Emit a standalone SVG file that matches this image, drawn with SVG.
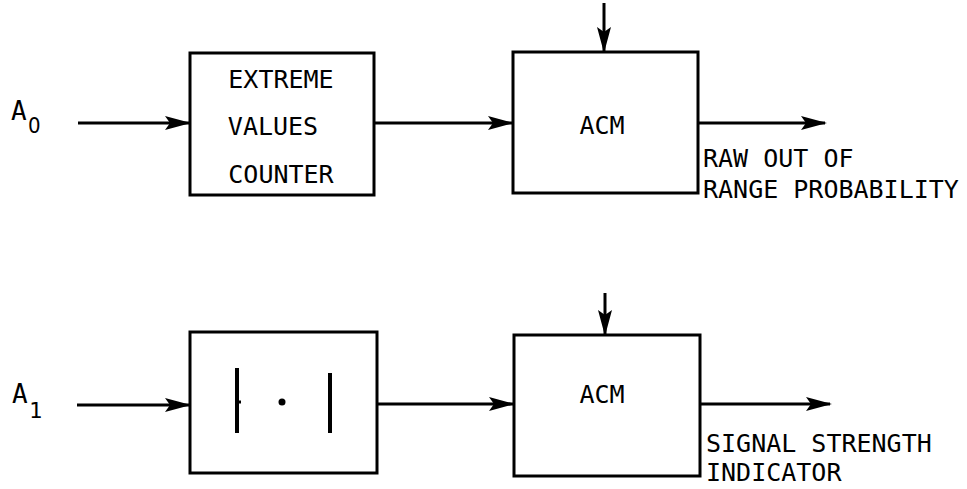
<svg xmlns="http://www.w3.org/2000/svg" width="967" height="489" viewBox="0 0 967 489">
<style>
.box{fill:none;stroke:#000;stroke-width:3}
.ln{fill:none;stroke:#000;stroke-width:3}
.t{font-family:"DejaVu Sans Mono","Liberation Mono",monospace;font-size:25px;fill:#000}
.c{text-anchor:middle}
</style>
<defs>
<marker id="ah" viewBox="0 0 26 16" refX="24" refY="8" markerWidth="26" markerHeight="16" markerUnits="userSpaceOnUse" orient="auto">
<path d="M0,1 L26,8 L0,15 L5,8 Z" fill="#000"/>
</marker>
</defs>
<g id="connectors">
<line class="ln" x1="78" y1="123" x2="189" y2="123" marker-end="url(#ah)"/>
<line class="ln" x1="374" y1="123" x2="512" y2="123" marker-end="url(#ah)"/>
<line class="ln" x1="604" y1="3" x2="604" y2="51" marker-end="url(#ah)"/>
<line class="ln" x1="698" y1="123" x2="825" y2="123" marker-end="url(#ah)"/>
<line class="ln" x1="77" y1="405" x2="189" y2="405" marker-end="url(#ah)"/>
<line class="ln" x1="377" y1="404" x2="513" y2="404" marker-end="url(#ah)"/>
<line class="ln" x1="605" y1="293" x2="605" y2="334" marker-end="url(#ah)"/>
<line class="ln" x1="700" y1="404" x2="830" y2="404" marker-end="url(#ah)"/>
</g>
<g id="label-a0">
<text class="t" x="11" y="120" style="font-size:26px">A</text>
<text class="t" x="28" y="133" style="font-family:'DejaVu Sans Condensed','Liberation Sans',sans-serif;font-size:22px">0</text>
</g>
<g id="label-a1">
<text class="t" x="12" y="403" style="font-size:26px">A</text>
<text class="t" x="29" y="418" style="font-size:22px">1</text>
</g>
<g id="extreme-values-counter">
<rect class="box" x="190" y="53" width="184" height="142"/>
<text class="t c" x="281" y="88">EXTREME</text>
<text class="t c" x="273" y="135">VALUES</text>
<text class="t c" x="281" y="183">COUNTER</text>
</g>
<g id="acm-top">
<rect class="box" x="513" y="52" width="185" height="141"/>
<text class="t c" x="602" y="134">ACM</text>
</g>
<g id="label-raw">
<text class="t" x="703" y="167">RAW OUT OF</text>
<text class="t" x="703" y="198">RANGE PROBABILITY</text>
</g>
<g id="abs-value">
<rect class="box" x="190" y="332" width="187" height="141"/>
<line class="ln" x1="237" y1="368" x2="237" y2="433" style="stroke-width:4"/>
<line class="ln" x1="237" y1="402" x2="241" y2="402"/>
<circle cx="282" cy="402" r="3.5" fill="#000"/>
<line class="ln" x1="330" y1="373" x2="330" y2="433" style="stroke-width:4"/>
</g>
<g id="acm-bottom">
<rect class="box" x="514" y="335" width="186" height="141"/>
<text class="t c" x="602" y="403">ACM</text>
</g>
<g id="label-signal">
<text class="t" x="706" y="452">SIGNAL STRENGTH</text>
<text class="t" x="706" y="481">INDICATOR</text>
</g>
</svg>
